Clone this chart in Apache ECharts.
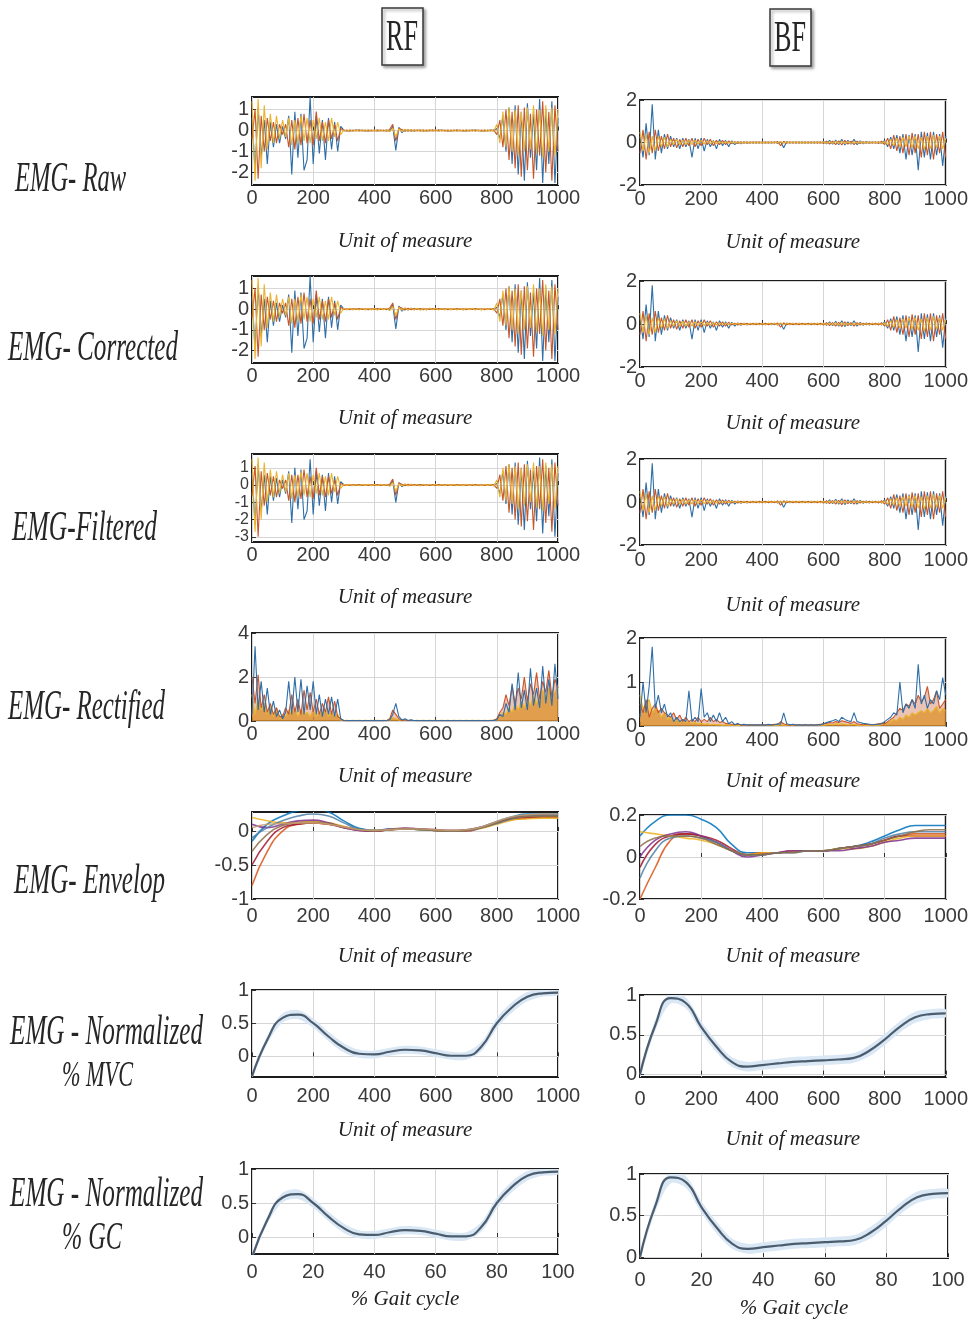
<!DOCTYPE html>
<html><head><meta charset="utf-8">
<script src="https://cdn.jsdelivr.net/npm/echarts@6/dist/echarts.min.js"></script>
<style>html,body{margin:0;padding:0;background:#fff}#c{width:971px;height:1334px}</style>
</head><body><div id="c"></div>
<script>
// ---------------- DATA ----------------
// sample grids: EMG traces every 10 units, envelopes/normalized every 50 units, gait every 5 %
const unitTickLabels = [0, 200, 400, 600, 800, 1000];
const gaitTickLabels = [0, 20, 40, 60, 80, 100];
const rfRawYTicks = [-2, -1, 0, 1];
const rfFiltYTicks = [-3, -2, -1, 0, 1];
const rfRectYTicks = [0, 2, 4];
const rfEnvYTicks = [-1, -0.5, 0];
const normYTicks = [0, 0.5, 1];
const bfRawYTicks = [-2, 0, 2];
const bfRectYTicks = [0, 1, 2];
const bfEnvYTicks = [-0.2, 0, 0.2];

const rfRawBlue = [0.6,-1.9,1.1,-1.3,0.5,-1.6,0.4,-0.8,0.3,-0.6,
 0.2,-0.4,0.7,-2.1,0.9,-1.3,0.8,-1.9,-1.4,1.6,
 -1.6,0.7,-1.1,0.5,-1.4,0.6,-0.9,0.4,-1.0,0.2,
 .02,-.03,.02,-.02,.03,-.02,.02,-.03,.02,-.02,
 .02,-.03,.02,-.02,.03,-.05,.2,-.95,.15,-.1,
 .05,-.04,.04,-.03,.03,-.02,.03,-.03,.02,-.02,
 .02,-.02,.03,-.02,.02,-.03,.02,-.02,.02,-.03,
 .02,-.02,.03,-.02,.02,-.03,.02,-.02,.03,-.02,
 0.1,-0.4,0.7,-1.0,1.1,-1.6,1.2,-2.1,0.9,-2.4,
 1.3,-1.3,0.8,-1.9,1.5,-2.5,1.0,-1.6,1.4,-2.5,0.6];
const rfRawRed = [-0.4,1.0,-2.3,0.7,-1.0,0.6,-0.5,0.4,-0.6,0.3,
 -0.2,0.3,-0.8,0.5,-0.9,0.6,-0.7,0.8,-0.6,0.5,
 -0.7,0.9,-0.5,0.4,-0.6,0.5,-0.4,0.3,-0.5,0.1,
 -.02,.02,-.03,.02,-.02,.03,-.02,.02,-.03,.02,
 -.02,.03,-.02,.02,-.03,.05,.3,-.5,.1,.05,
 -.04,.04,-.03,.03,-.02,.03,-.03,.02,-.02,.03,
 -.02,.03,-.02,.02,-.03,.02,-.02,.03,-.02,.02,
 -.03,.02,-.02,.03,-.02,.02,-.03,.02,-.02,.03,
 -0.2,0.5,-0.8,1.0,-1.4,0.9,-1.8,1.2,-2.2,1.1,
 -1.9,0.8,-2.3,1.0,-1.2,1.4,-2.0,0.9,-2.4,1.2,-1.0];
const rfRawYellow = [1.4,-2.4,1.5,-1.8,1.2,-0.9,0.8,-0.6,0.7,-0.4,
 0.5,-0.3,0.6,-0.7,0.5,-0.6,0.7,-0.5,0.6,-0.6,
 0.5,-0.4,0.6,-0.5,0.4,-0.5,0.6,-0.3,0.4,-0.2,
 .04,-.03,.04,-.04,.03,-.04,.04,-.03,.04,-.04,
 .03,-.04,.04,-.03,.04,-.06,.12,-.3,.08,-.05,
 .06,-.04,.05,-.04,.04,-.05,.04,-.04,.05,-.03,
 .04,-.04,.03,-.04,.04,-.03,.04,-.04,.03,-.04,
 .04,-.03,.04,-.04,.03,-.04,.04,-.03,.04,-.05,
 0.3,-0.6,0.9,-0.8,1.1,-1.0,1.0,-1.2,0.9,-1.0,
 1.1,-0.9,1.2,-1.1,1.0,-1.3,1.2,-1.0,1.1,-1.2,1.0];
// corrected trace is visually identical to the raw one
const rfCorrBlue = rfRawBlue, rfCorrRed = rfRawRed, rfCorrYellow = rfRawYellow;

const rfFiltBlue = [0.7,-2.3,1.2,-1.5,0.6,-1.7,0.5,-0.9,0.4,-0.7,
 0.3,-0.5,0.8,-2.2,1.0,-1.4,0.9,-2.0,-1.5,1.5,
 -1.7,0.8,-1.2,0.6,-1.5,0.7,-1.0,0.5,-1.1,0.2,
 .02,-.03,.02,-.02,.03,-.02,.02,-.03,.02,-.02,
 .02,-.03,.02,-.02,.03,-.06,.25,-1.0,.15,-.1,
 .05,-.04,.04,-.03,.03,-.02,.03,-.03,.02,-.02,
 .02,-.02,.03,-.02,.02,-.03,.02,-.02,.02,-.03,
 .02,-.02,.03,-.02,.02,-.03,.02,-.02,.03,-.02,
 0.1,-0.5,0.8,-1.1,1.2,-1.7,1.3,-2.3,1.0,-2.6,
 1.4,-1.4,0.9,-2.1,1.6,-2.8,1.1,-1.8,1.5,-3.0,0.7];
const rfFiltRed = [-0.6,1.1,-3.0,0.8,-1.2,0.7,-0.6,0.5,-0.7,0.3,
 -0.2,0.3,-0.9,0.6,-1.0,0.6,-0.8,0.9,-0.7,0.5,
 -0.8,1.0,-0.6,0.5,-0.7,0.5,-0.5,0.3,-0.6,0.1,
 -.02,.02,-.03,.02,-.02,.03,-.02,.02,-.03,.02,
 -.02,.03,-.02,.02,-.03,.05,.35,-.6,.12,.05,
 -.04,.04,-.03,.03,-.02,.03,-.03,.02,-.02,.03,
 -.02,.03,-.02,.02,-.03,.02,-.02,.03,-.02,.02,
 -.03,.02,-.02,.03,-.02,.02,-.03,.02,-.02,.03,
 -0.2,0.6,-0.9,1.1,-1.6,1.0,-2.0,1.3,-2.4,1.2,
 -2.1,0.9,-2.6,1.1,-1.4,1.5,-2.2,1.0,-2.7,1.3,-1.2];
const rfFiltYellow = [1.5,-2.7,1.6,-2.0,1.3,-1.0,0.9,-0.7,0.8,-0.5,
 0.6,-0.4,0.7,-0.8,0.6,-0.7,0.8,-0.6,0.7,-0.7,
 0.6,-0.5,0.7,-0.6,0.5,-0.6,0.7,-0.4,0.5,-0.2,
 .04,-.03,.04,-.04,.03,-.04,.04,-.03,.04,-.04,
 .03,-.04,.04,-.03,.04,-.07,.15,-.35,.08,-.05,
 .06,-.04,.05,-.04,.04,-.05,.04,-.04,.05,-.03,
 .04,-.04,.03,-.04,.04,-.03,.04,-.04,.03,-.04,
 .04,-.03,.04,-.04,.03,-.04,.04,-.03,.04,-.05,
 0.3,-0.7,1.0,-0.9,1.2,-1.1,1.1,-1.4,1.0,-1.2,
 1.2,-1.0,1.3,-1.3,1.1,-1.5,1.3,-1.1,1.2,-1.4,1.1];

const rfRectBlue = [0.3,3.4,0.5,1.8,0.4,1.5,0.3,0.9,0.2,0.5,
 0.1,0.4,1.8,0.3,2.0,0.4,1.9,0.3,1.6,0.5,
 1.8,0.3,1.2,0.2,1.0,0.3,1.1,0.2,1.0,0.1,
 .02,.01,.02,.01,.02,.01,.02,.01,.02,.01,
 .02,.01,.02,.01,.02,.05,.3,.8,.2,.05,
 .1,.02,.05,.01,.02,.01,.02,.01,.02,.01,
 .02,.01,.02,.01,.02,.01,.02,.01,.02,.01,
 .02,.01,.02,.01,.02,.01,.02,.01,.02,.03,
 0.05,0.3,0.2,0.8,0.4,1.7,0.5,2.2,0.6,1.4,
 0.5,2.4,0.7,1.5,0.6,2.5,0.8,1.9,0.7,2.6,1.0];
const rfRectRed = [2.0,0.8,2.1,0.6,1.2,0.4,0.8,0.3,0.6,0.2,
 0.2,0.6,0.3,1.2,0.4,1.0,0.3,1.4,0.5,1.3,
 0.4,1.0,0.3,0.8,0.4,1.1,0.3,0.9,0.2,0.1,
 .01,.02,.01,.02,.01,.02,.01,.02,.01,.02,
 .01,.02,.01,.02,.01,.1,.5,.3,.1,.02,
 .05,.01,.03,.02,.01,.02,.01,.02,.01,.02,
 .01,.02,.01,.02,.01,.02,.01,.02,.01,.02,
 .01,.02,.01,.02,.01,.02,.01,.02,.01,.02,
 0.1,0.4,0.6,1.2,0.7,1.6,0.8,1.5,1.0,2.0,
 0.9,1.7,1.2,2.2,1.0,1.8,1.3,2.3,1.1,1.9,1.5];
const rfRectYellow = [1.2,0.3,1.0,0.5,0.8,0.3,0.7,0.2,0.6,0.1,
 0.3,0.2,0.5,0.3,0.6,0.2,0.5,0.3,0.4,0.2,
 0.5,0.2,0.4,0.3,0.5,0.2,0.4,0.2,0.3,0.05,
 .02,.03,.02,.03,.02,.03,.02,.03,.02,.03,
 .02,.03,.02,.03,.02,.04,.15,.1,.05,.03,
 .04,.02,.03,.02,.03,.02,.03,.02,.03,.02,
 .03,.02,.03,.02,.03,.02,.03,.02,.03,.02,
 .03,.02,.03,.02,.03,.02,.03,.02,.03,.04,
 0.05,0.2,0.4,0.3,0.6,0.4,0.8,0.5,0.9,0.6,
 1.0,0.7,1.2,0.8,1.1,1.4,0.9,1.5,1.2,1.3,1.6];

const bfRawBlue = [0.3,-0.7,0.9,-0.6,1.8,-0.8,0.6,-0.5,0.4,-0.3,
 0.3,-0.2,0.2,-0.3,0.2,-0.2,0.15,-0.7,0.2,-0.3,
 0.2,-0.4,0.15,-0.2,0.1,-0.3,0.15,-0.15,0.1,-0.2,
 0.08,-0.1,0.05,-0.06,0.04,-0.05,0.03,-0.04,0.03,-0.03,
 0.03,-0.04,0.03,-0.03,0.04,-0.05,0.04,-0.25,0.05,-0.04,
 0.03,-0.03,0.04,-0.03,0.03,-0.04,0.03,-0.03,0.04,-0.04,
 0.05,-0.06,0.1,-0.08,0.12,-0.1,0.15,-0.12,0.1,-0.08,
 0.15,-0.1,0.08,-0.06,0.05,-0.05,0.04,-0.03,0.04,-0.05,
 0.1,-0.2,0.25,-0.3,0.35,-0.5,0.4,-0.8,0.35,-0.6,
 0.4,-1.3,0.5,-0.7,0.45,-0.8,0.5,-0.6,0.4,-1.1,0.3];
const bfRawRed = [-0.5,0.6,-0.8,0.5,-0.5,0.6,-0.4,0.3,-0.3,0.4,
 -0.2,0.2,-0.25,0.15,-0.2,0.2,-0.15,0.2,-0.2,0.15,
 -0.15,0.2,-0.1,0.15,-0.15,0.1,-0.1,0.1,-0.1,0.08,
 -0.05,0.04,-0.05,0.04,-0.03,0.04,-0.03,0.04,-0.03,0.03,
 -0.04,0.03,-0.03,0.04,-0.03,0.05,-0.15,0.06,-0.04,0.03,
 -0.03,0.04,-0.03,0.03,-0.04,0.03,-0.03,0.04,-0.03,0.04,
 -0.05,0.06,-0.08,0.07,-0.1,0.08,-0.12,0.1,-0.08,0.06,
 -0.1,0.06,-0.05,0.04,-0.04,0.03,-0.03,0.04,-0.05,0.06,
 -0.1,0.2,-0.3,0.35,-0.4,0.3,-0.5,0.4,-0.6,0.45,
 -0.5,0.4,-0.7,0.5,-0.6,0.5,-0.8,0.4,-0.5,0.5,-0.7];
const bfRawYellow = [0.5,-0.4,0.4,-0.5,0.3,-0.4,0.3,-0.2,0.25,-0.2,
 0.15,-0.1,0.15,-0.1,0.12,-0.1,0.1,-0.1,0.1,-0.08,
 0.1,-0.08,0.08,-0.06,0.06,-0.05,0.05,-0.04,0.04,-0.04,
 0.03,-0.02,0.03,-0.03,0.02,-0.03,0.03,-0.02,0.03,-0.03,
 0.02,-0.03,0.03,-0.02,0.03,-0.03,0.05,-0.04,0.03,-0.02,
 0.03,-0.02,0.03,-0.03,0.02,-0.03,0.03,-0.02,0.03,-0.03,
 0.03,-0.04,0.05,-0.04,0.06,-0.05,0.06,-0.05,0.04,-0.04,
 0.05,-0.03,0.03,-0.03,0.02,-0.03,0.03,-0.02,0.03,-0.04,
 0.05,-0.1,0.15,-0.15,0.2,-0.2,0.25,-0.2,0.3,-0.25,
 0.3,-0.3,0.25,-0.35,0.3,-0.3,0.35,-0.25,0.3,-0.3,0.2];
// corrected and filtered BF traces look the same as the raw one
const bfCorrBlue = bfRawBlue, bfCorrRed = bfRawRed, bfCorrYellow = bfRawYellow;
const bfFiltBlue = bfRawBlue, bfFiltRed = bfRawRed, bfFiltYellow = bfRawYellow;

const bfRectBlue = [0.2,1.0,0.3,0.9,1.8,0.4,0.7,0.3,0.5,0.2,
 0.3,0.1,0.2,0.1,0.15,0.1,0.8,0.1,0.2,0.1,
 0.85,0.2,0.3,0.1,0.25,0.1,0.3,0.1,0.2,0.05,
 0.1,0.03,0.06,0.02,0.04,0.02,0.03,0.02,0.03,0.02,
 0.03,0.02,0.04,0.02,0.03,0.05,0.04,0.3,0.05,0.03,
 0.04,0.02,0.03,0.02,0.03,0.02,0.03,0.02,0.03,0.02,
 0.05,0.08,0.1,0.12,0.15,0.1,0.2,0.15,0.12,0.1,
 0.3,0.1,0.08,0.06,0.05,0.04,0.03,0.03,0.04,0.05,
 0.1,0.15,0.2,0.3,0.25,1.0,0.3,0.5,0.4,0.6,
 0.4,1.4,0.5,0.7,0.4,0.6,0.5,0.8,0.6,1.1,0.7];
const bfRectRed = [0.5,0.3,0.6,0.2,0.4,0.5,0.3,0.4,0.3,0.25,
 0.2,0.3,0.15,0.25,0.1,0.2,0.1,0.15,0.1,0.2,
 0.1,0.15,0.1,0.2,0.1,0.15,0.08,0.1,0.06,0.05,
 0.04,0.03,0.04,0.03,0.02,0.03,0.02,0.03,0.02,0.03,
 0.02,0.03,0.02,0.03,0.04,0.03,0.1,0.05,0.03,0.02,
 0.03,0.02,0.03,0.02,0.03,0.02,0.03,0.02,0.03,0.04,
 0.05,0.06,0.08,0.07,0.1,0.08,0.12,0.1,0.08,0.06,
 0.1,0.05,0.04,0.03,0.04,0.03,0.03,0.04,0.05,0.06,
 0.05,0.1,0.15,0.2,0.3,0.4,0.35,0.5,0.45,0.6,
 0.5,0.7,0.55,0.65,0.9,0.5,0.6,0.8,0.4,0.5,0.6];
const bfRectYellow = [0.7,0.4,0.5,0.6,0.3,0.4,0.35,0.2,0.3,0.15,
 0.2,0.1,0.15,0.1,0.12,0.08,0.1,0.06,0.08,0.05,
 0.06,0.04,0.05,0.03,0.04,0.03,0.03,0.02,0.03,0.02,
 0.02,0.01,0.02,0.01,0.02,0.01,0.02,0.01,0.02,0.01,
 0.02,0.01,0.02,0.01,0.02,0.01,0.03,0.02,0.02,0.01,
 0.02,0.01,0.02,0.01,0.02,0.01,0.02,0.01,0.02,0.01,
 0.02,0.03,0.04,0.03,0.05,0.04,0.05,0.04,0.03,0.03,
 0.04,0.02,0.02,0.01,0.02,0.01,0.02,0.01,0.02,0.03,
 0.05,0.08,0.1,0.15,0.12,0.2,0.15,0.25,0.2,0.3,
 0.25,0.3,0.35,0.3,0.4,0.3,0.35,0.45,0.3,0.4,0.35];

// envelopes (every 50 units, 0..1000)
const rfEnv1 = [-0.15,0.1,0.22,0.3,0.32,0.28,0.15,0.04,0.01,0.03,0.03,0.02,0.01,0.0,0.01,0.06,0.14,0.21,0.25,0.25,0.25];
const rfEnv2 = [-0.8,-0.3,0.0,0.1,0.12,0.1,0.06,0.02,0.0,0.02,0.03,0.03,0.01,0.0,0.01,0.05,0.12,0.18,0.2,0.21,0.21];
const rfEnv3 = [-0.5,-0.15,0.05,0.1,0.12,0.1,0.05,0.01,0.0,0.02,0.04,0.03,0.01,0.0,0.0,0.05,0.12,0.17,0.19,0.2,0.2];
const rfEnv4 = [0.2,0.15,0.12,0.13,0.14,0.12,0.07,0.02,0.01,0.02,0.03,0.02,0.01,0.0,0.01,0.04,0.1,0.16,0.18,0.19,0.19];
const rfEnv5 = [0.1,0.05,0.1,0.15,0.16,0.12,0.05,0.01,0.0,0.03,0.04,0.03,0.02,0.01,0.02,0.06,0.13,0.2,0.23,0.24,0.24];
const rfEnv6 = [-0.1,0.05,0.15,0.22,0.25,0.22,0.12,0.03,0.01,0.02,0.03,0.02,0.01,0.0,0.01,0.05,0.11,0.18,0.22,0.23,0.23];
const rfEnv7 = [-0.3,-0.05,0.08,0.12,0.13,0.11,0.06,0.02,0.0,0.02,0.03,0.02,0.01,0.0,0.01,0.05,0.12,0.19,0.22,0.22,0.22];
const rfEnv8 = [0.05,0.1,0.11,0.12,0.12,0.1,0.06,0.02,0.01,0.02,0.03,0.03,0.02,0.01,0.02,0.06,0.14,0.21,0.24,0.25,0.25];
const bfEnv1 = [0.1,0.17,0.2,0.2,0.18,0.14,0.06,0.02,0.02,0.02,0.03,0.03,0.03,0.04,0.05,0.07,0.1,0.13,0.15,0.15,0.15];
const bfEnv2 = [-0.2,-0.05,0.08,0.11,0.1,0.07,0.03,0.01,0.02,0.02,0.03,0.03,0.03,0.04,0.05,0.06,0.08,0.1,0.11,0.11,0.11];
const bfEnv3 = [-0.05,0.06,0.1,0.11,0.1,0.08,0.04,0.01,0.02,0.02,0.03,0.03,0.03,0.04,0.05,0.06,0.08,0.1,0.1,0.1,0.1];
const bfEnv4 = [0.12,0.11,0.1,0.09,0.08,0.06,0.03,0.01,0.02,0.02,0.03,0.03,0.03,0.04,0.04,0.05,0.07,0.09,0.1,0.1,0.1];
const bfEnv5 = [0.0,0.08,0.11,0.12,0.1,0.07,0.03,0.0,0.01,0.02,0.03,0.03,0.03,0.03,0.04,0.05,0.07,0.08,0.09,0.09,0.09];
const bfEnv6 = [-0.1,0.03,0.09,0.1,0.09,0.07,0.03,0.01,0.01,0.02,0.02,0.03,0.03,0.04,0.05,0.06,0.09,0.11,0.12,0.12,0.12];
const bfEnv7 = [0.05,0.09,0.1,0.1,0.09,0.06,0.03,0.01,0.01,0.02,0.02,0.03,0.03,0.04,0.05,0.06,0.08,0.1,0.12,0.13,0.13];

// normalized mean curves and their spread (every 50 units / every 5 % of gait)
const rfNormMean = [-0.3,0.25,0.58,0.63,0.5,0.3,0.13,0.04,0.03,0.07,0.1,0.09,0.05,0.01,0.01,0.15,0.5,0.74,0.9,0.95,0.96];
const rfNormSd   = [0.03,0.06,0.07,0.07,0.07,0.07,0.07,0.06,0.06,0.06,0.06,0.06,0.06,0.06,0.06,0.07,0.08,0.08,0.07,0.05,0.04];
const bfNormMean = [0.0,0.62,0.96,0.9,0.6,0.35,0.16,0.1,0.12,0.14,0.16,0.17,0.18,0.19,0.21,0.3,0.44,0.6,0.72,0.76,0.77];
const bfNormSd   = [0.03,0.07,0.07,0.07,0.07,0.07,0.06,0.06,0.06,0.06,0.06,0.06,0.06,0.06,0.06,0.07,0.07,0.07,0.07,0.06,0.05];
const rfGcMean = rfNormMean, rfGcSd = rfNormSd, bfGcMean = bfNormMean, bfGcSd = bfNormSd;

// ---------------- CHART ----------------
const EMG_STEP = 10, ENV_STEP = 50, NORM_STEP = 50, GC_STEP = 5;
const pts = (ys, step) => ys.map((v, i) => [i * step, v]);
const C_BLUE = '#2f6ea6', C_RED = '#c9552b', C_YEL = '#eab42d';
const envColors = ['#0072BD','#D95319','#A2142F','#EDB120','#7E2F8E','#4d7fa6','#8c6d46','#c9a070'];

const TICK_FONT = "'Liberation Sans', Arial, sans-serif";
const SERIF = "'Liberation Serif', 'Times New Roman', serif";

const RF = {l: 252, w: 306}, BF = {l: 640, w: 308};
// lm: x tick-label margin, ng: x-axis title gap
const panels = [
  {c: RF, t: 97,  h: 88, lm: 3, ng: 46, y: [-2.6, 1.6], yt: rfRawYTicks, emg: [rfRawBlue, rfRawRed, rfRawYellow]},
  {c: RF, t: 276, h: 87, lm: 3, ng: 45, y: [-2.6, 1.6], yt: rfRawYTicks, emg: [rfCorrBlue, rfCorrRed, rfCorrYellow]},
  {c: RF, t: 454, h: 88, lm: 3, ng: 45, y: [-3.3, 1.8], yt: rfFiltYTicks, ys: 16, emg: [rfFiltBlue, rfFiltRed, rfFiltYellow]},
  {c: RF, t: 633, h: 88, lm: 3, ng: 45, y: [0, 4], yt: rfRectYTicks, rect: true, emg: [rfRectBlue, rfRectRed, rfRectYellow]},
  {c: RF, t: 812, h: 87, lm: 7, ng: 47, y: [-1, 0.28], yt: rfEnvYTicks, env: [rfEnv1, rfEnv2, rfEnv3, rfEnv4, rfEnv5, rfEnv6, rfEnv7, rfEnv8]},
  {c: RF, t: 990, h: 87, lm: 9, ng: 43, y: [-0.31, 1], yt: normYTicks, norm: [rfNormMean, rfNormSd], step: NORM_STEP},
  {c: RF, t: 1169, h: 85, lm: 8, ng: 35, y: [-0.25, 1], yt: normYTicks, norm: [rfGcMean, rfGcSd], step: GC_STEP, gait: true},
  {c: BF, t: 100, h: 85, lm: 4, ng: 47, y: [-2, 2], yt: bfRawYTicks, emg: [bfRawBlue, bfRawRed, bfRawYellow]},
  {c: BF, t: 281, h: 86, lm: 4, ng: 46, y: [-2, 2], yt: bfRawYTicks, emg: [bfCorrBlue, bfCorrRed, bfCorrYellow]},
  {c: BF, t: 459, h: 86, lm: 5, ng: 50, y: [-2, 2], yt: bfRawYTicks, emg: [bfFiltBlue, bfFiltRed, bfFiltYellow]},
  {c: BF, t: 638, h: 88, lm: 4, ng: 45, y: [0, 2], yt: bfRectYTicks, rect: true, emg: [bfRectBlue, bfRectRed, bfRectYellow]},
  {c: BF, t: 815, h: 84, lm: 7, ng: 47, y: [-0.2, 0.2], yt: bfEnvYTicks, env: [bfEnv1, bfEnv2, bfEnv3, bfEnv4, bfEnv5, bfEnv6, bfEnv7]},
  {c: BF, t: 995, h: 82, lm: 12, ng: 52, y: [-0.03, 1], yt: normYTicks, norm: [bfNormMean, bfNormSd], step: NORM_STEP},
  {c: BF, t: 1174, h: 84, lm: 12, ng: 40, y: [-0.01, 1], yt: normYTicks, norm: [bfGcMean, bfGcSd], step: GC_STEP, gait: true}
];

const grids = [], xAxes = [], yAxes = [], series = [];
panels.forEach((p, k) => {
  grids.push({left: p.c.l, top: p.t, width: p.c.w, height: p.h, show: true,
    borderColor: '#1c1c1c', borderWidth: 2, backgroundColor: '#fff'});
  const ticks = p.gait ? gaitTickLabels : unitTickLabels;
  xAxes.push({gridIndex: k, type: 'value', min: ticks[0], max: ticks[ticks.length - 1],
    interval: ticks[1] - ticks[0],
    name: p.gait ? '% Gait cycle' : 'Unit of measure', nameLocation: 'middle',
    nameGap: p.ng,
    nameTextStyle: {fontFamily: SERIF, fontStyle: 'italic', fontSize: 21, color: '#222'},
    axisLine: {show: false},
    axisTick: {show: true, inside: true, length: 4, lineStyle: {color: '#333'}},
    axisLabel: {margin: p.lm, fontSize: 20, color: '#3a3a3a', fontFamily: TICK_FONT,
      showMinLabel: true, showMaxLabel: true, hideOverlap: false, formatter: v => String(v)},
    splitLine: {show: true, lineStyle: {color: '#d6d6d6', width: 1}}});
  yAxes.push({gridIndex: k, type: 'value', min: p.y[0], max: p.y[1],
    axisLine: {show: false},
    axisTick: {show: true, inside: true, length: 4, customValues: p.yt, lineStyle: {color: '#333'}},
    axisLabel: {customValues: p.yt, margin: 3, fontSize: p.ys || 20, color: '#3a3a3a', fontFamily: TICK_FONT,
      hideOverlap: false, showMinLabel: true, showMaxLabel: true, formatter: v => String(v)},
    splitLine: {show: true, lineStyle: {color: '#d6d6d6', width: 1}}});
  const base = {type: 'line', xAxisIndex: k, yAxisIndex: k, symbol: 'none', silent: true, animation: false, clip: true};
  if (p.emg && p.rect) {
    // rectified: yellow and red fill down to zero, blue spikes on top
    series.push(Object.assign({}, base, {data: pts(p.emg[2], EMG_STEP), lineStyle: {color: C_YEL, width: 1.1},
      areaStyle: {color: C_YEL, opacity: 0.75}}));
    series.push(Object.assign({}, base, {data: pts(p.emg[1], EMG_STEP), lineStyle: {color: C_RED, width: 1.1},
      areaStyle: {color: C_RED, opacity: 0.35}}));
    series.push(Object.assign({}, base, {data: pts(p.emg[0], EMG_STEP), lineStyle: {color: C_BLUE, width: 1.1}}));
  } else if (p.emg) {
    [C_BLUE, C_RED, C_YEL].forEach((col, j) => {
      series.push(Object.assign({}, base, {data: pts(p.emg[j], EMG_STEP), lineStyle: {color: col, width: 1.1}}));
    });
  } else if (p.env) {
    p.env.forEach((arr, j) => {
      series.push(Object.assign({}, base, {data: pts(arr, ENV_STEP), smooth: 0.5,
        lineStyle: {color: envColors[j % envColors.length], width: 1.6, opacity: 0.85}}));
    });
  } else if (p.norm) {
    const [mean, sd] = p.norm;
    const step = p.step;
    series.push({type: 'custom', xAxisIndex: k, yAxisIndex: k, silent: true, clip: true, animation: false,
      data: [[0, 0]], z: 1,
      renderItem: (params, api) => {
        const up = mean.map((m, i) => api.coord([i * step, m + sd[i]]));
        const lo = mean.map((m, i) => api.coord([i * step, m - sd[i]])).reverse();
        return {type: 'polygon', shape: {points: up.concat(lo), smooth: 0.3},
          style: {fill: '#dae8f5', stroke: null}};
      }});
    series.push(Object.assign({}, base, {data: pts(mean, step), smooth: 0.5, z: 3,
      lineStyle: {color: '#4b5c6e', width: 2.2}}));
  }
});

// text labels (stretched italic serif, like the figure)
const mctx = document.createElement('canvas').getContext('2d');
function fitText(text, left, cy, targetW, size, italic) {
  const font = (italic ? 'italic ' : '') + size + "px 'Liberation Serif'";
  mctx.font = font;
  const sx = targetW / mctx.measureText(text).width;
  return {type: 'text', x: left, y: cy, scaleX: sx, scaleY: 1, silent: true, z: 10,
    style: {text: text, fontFamily: SERIF, fontSize: size, fontStyle: italic ? 'italic' : 'normal',
      fill: '#262626', align: 'left', verticalAlign: 'middle'}};
}
const graphics = [
  {type: 'rect', shape: {x: 382, y: 8, width: 41, height: 57}, silent: true,
    style: {fill: '#fff', stroke: '#3a3a3a', lineWidth: 1.5, shadowBlur: 3, shadowColor: 'rgba(0,0,0,0.35)', shadowOffsetX: 2, shadowOffsetY: 2}},
  {type: 'rect', shape: {x: 770, y: 9, width: 41, height: 57}, silent: true,
    style: {fill: '#fff', stroke: '#3a3a3a', lineWidth: 1.5, shadowBlur: 3, shadowColor: 'rgba(0,0,0,0.35)', shadowOffsetX: 2, shadowOffsetY: 2}},
  fitText('RF', 386, 38, 32, 44, false),
  fitText('BF', 774, 39, 32, 44, false),
  fitText('EMG- Raw', 15, 180, 111, 42, true),
  fitText('EMG- Corrected', 8, 349, 170, 42, true),
  fitText('EMG-Filtered', 12, 529, 145, 42, true),
  fitText('EMG- Rectified', 8, 708, 157, 42, true),
  fitText('EMG- Envelop', 14, 882, 151, 42, true),
  fitText('EMG - Normalized', 10, 1033, 193, 42, true),
  fitText('% MVC', 62, 1077, 71, 36, true),
  fitText('EMG - Normalized', 10, 1195, 193, 42, true),
  fitText('% GC', 62, 1238, 60, 40, true)
];

const chart = echarts.init(document.getElementById('c'), null, {renderer: 'canvas', width: 971, height: 1334});
chart.setOption({
  backgroundColor: '#ffffff',
  animation: false,
  grid: grids, xAxis: xAxes, yAxis: yAxes, series: series,
  graphic: graphics
});
</script></body></html>
